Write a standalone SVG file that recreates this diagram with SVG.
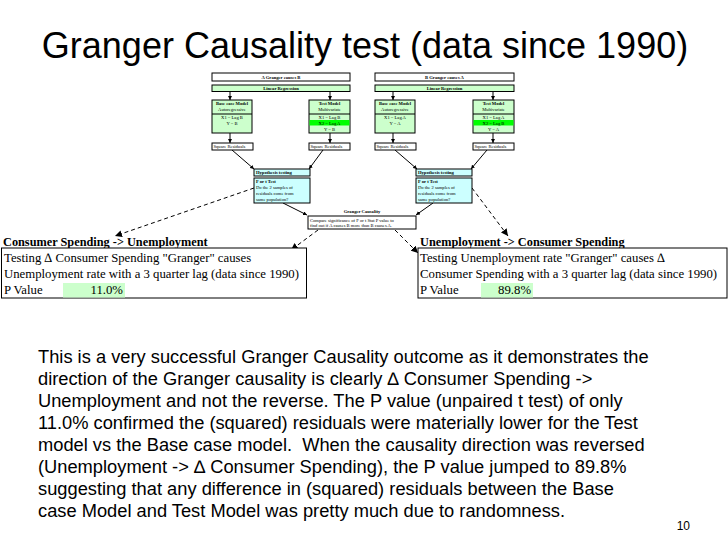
<svg xmlns="http://www.w3.org/2000/svg" width="728" height="546" viewBox="0 0 728 546">
<style>
.t{font-family:"Liberation Serif",serif;fill:#000}
.s{font-size:4.6px}
.b{font-weight:bold}
.box{stroke:#000;stroke-width:1}
.g{fill:#ccffcc}
.c{fill:#ccffff}
.w{fill:#fff}
.ln{stroke:#000;stroke-width:1;fill:none}
.dl{stroke:#000;stroke-width:1;fill:none;stroke-dasharray:4,3}
.body{font-family:"Liberation Sans",Arial,sans-serif;font-size:18.3px;fill:#000}
.tb{font-family:"Liberation Serif",serif;font-size:12.75px;fill:#000}
.hd{font-family:"Liberation Serif",serif;font-size:12.3px;font-weight:bold;fill:#000}
</style>
<defs>
<marker id="a" viewBox="0 0 10 10" refX="10" refY="5" markerWidth="4" markerHeight="4" markerUnits="userSpaceOnUse" orient="auto"><path d="M0,0L10,5L0,10z" fill="#000"/></marker>
<marker id="a2" viewBox="0 0 10 10" refX="10" refY="5" markerWidth="7" markerHeight="7" markerUnits="userSpaceOnUse" orient="auto"><path d="M0,0L10,5L0,10z" fill="#000"/></marker>
</defs>
<rect width="728" height="546" fill="#fff"/>
<text x="365" y="58" text-anchor="middle" font-family="Liberation Sans,Arial,sans-serif" font-size="36" fill="#000">Granger Causality test (data since 1990)</text>

<g id="connectors">
<line class="ln" x1="230" y1="91" x2="230" y2="100" marker-end="url(#a)"/>
<line class="ln" x1="330" y1="91" x2="330" y2="100" marker-end="url(#a)"/>
<line class="ln" x1="230" y1="133" x2="230" y2="143" marker-end="url(#a)"/>
<line class="ln" x1="330" y1="133" x2="330" y2="143" marker-end="url(#a)"/>
<line class="ln" x1="393" y1="91" x2="393" y2="100" marker-end="url(#a)"/>
<line class="ln" x1="493" y1="91" x2="493" y2="100" marker-end="url(#a)"/>
<line class="ln" x1="393" y1="133" x2="393" y2="143" marker-end="url(#a)"/>
<line class="ln" x1="493" y1="133" x2="493" y2="143" marker-end="url(#a)"/>
<line class="ln" x1="232" y1="150" x2="254" y2="169" marker-end="url(#a)"/>
<line class="ln" x1="323" y1="150" x2="309" y2="169" marker-end="url(#a)"/>
<line class="ln" x1="395" y1="150" x2="417" y2="169" marker-end="url(#a)"/>
<line class="ln" x1="487" y1="150" x2="471" y2="169" marker-end="url(#a)"/>
<line class="ln" x1="283" y1="203" x2="307" y2="215" marker-end="url(#a)"/>
<line class="ln" x1="433" y1="203" x2="416" y2="215" marker-end="url(#a)"/>
<line class="dl" x1="254" y1="188" x2="115" y2="236" marker-end="url(#a2)"/>
<line class="dl" x1="472" y1="188" x2="508" y2="236" marker-end="url(#a2)"/>
<line class="dl" x1="318" y1="230" x2="291" y2="250" marker-end="url(#a2)"/>
<line class="dl" x1="395" y1="230" x2="418" y2="253" marker-end="url(#a2)"/>
</g>

<g id="a-causes-b">
<rect class="box w" x="212" y="73" width="138" height="8"/>
<text class="t s b" x="281" y="79" text-anchor="middle">A Granger causes B</text>
</g>
<g id="linreg-left">
<rect class="box g" x="212" y="85" width="138" height="6.5"/>
<text class="t s b" x="281" y="90" text-anchor="middle">Linear Regression</text>
</g>
<g id="base-left">
<rect class="box g" x="212" y="100" width="40" height="33"/>
<line class="ln" x1="212" y1="114" x2="252" y2="114"/>
<text class="t s b" x="232" y="105" text-anchor="middle">Base case Model</text>
<text class="t s" x="232" y="111" text-anchor="middle">Autoregressive</text>
<text class="t s" x="232" y="119" text-anchor="middle">X1 = Lag B</text>
<text class="t s" x="232" y="124.5" text-anchor="middle">Y = B</text>
</g>
<g id="test-left">
<rect class="box g" x="309" y="100" width="41" height="33"/>
<line class="ln" x1="309" y1="114" x2="350" y2="114"/>
<rect x="309.5" y="120" width="40" height="5.5" fill="#00ff00"/>
<text class="t s b" x="329.5" y="105" text-anchor="middle">Test Model</text>
<text class="t s" x="329.5" y="111" text-anchor="middle">Multivariate</text>
<text class="t s" x="329.5" y="118.5" text-anchor="middle">X1 = Lag B</text>
<text class="t s" x="329.5" y="124.5" text-anchor="middle">X2 = Lag A</text>
<text class="t s" x="329.5" y="130.5" text-anchor="middle">Y = B</text>
</g>
<g id="sq-left-1">
<rect class="box w" x="212" y="143" width="41" height="7"/>
<text class="t s" x="213.5" y="148.3">Square Residuals</text>
</g>
<g id="sq-left-2">
<rect class="box w" x="309" y="143" width="41" height="7"/>
<text class="t s" x="310.5" y="148.3">Square Residuals</text>
</g>
<g id="hyp-left">
<rect class="box c" x="254" y="169" width="56" height="7"/>
<text class="t s b" x="256" y="174.3">Hypothesis testing</text>
</g>
<g id="ftest-left">
<rect class="box c" x="254" y="178" width="56" height="25"/>
<text class="t s b" x="256" y="183">F or t Test</text>
<text class="t s" x="256" y="189">Do the 2 samples of</text>
<text class="t s" x="256" y="195">residuals come from</text>
<text class="t s" x="256" y="201">same population?</text>
</g>

<g id="b-causes-a">
<rect class="box w" x="375" y="73" width="139" height="8"/>
<text class="t s b" x="444.5" y="79" text-anchor="middle">B Granger causes A</text>
</g>
<g id="linreg-right">
<rect class="box g" x="375" y="85" width="139" height="6.5"/>
<text class="t s b" x="444.5" y="90" text-anchor="middle">Linear Regression</text>
</g>
<g id="base-right">
<rect class="box g" x="375" y="100" width="40" height="33"/>
<line class="ln" x1="375" y1="114" x2="415" y2="114"/>
<text class="t s b" x="395" y="105" text-anchor="middle">Base case Model</text>
<text class="t s" x="395" y="111" text-anchor="middle">Autoregressive</text>
<text class="t s" x="395" y="119" text-anchor="middle">X1 = Lag A</text>
<text class="t s" x="395" y="124.5" text-anchor="middle">Y = A</text>
</g>
<g id="test-right">
<rect class="box g" x="473" y="100" width="41" height="33"/>
<line class="ln" x1="473" y1="114" x2="514" y2="114"/>
<rect x="473.5" y="120" width="40" height="5.5" fill="#00ff00"/>
<text class="t s b" x="493.5" y="105" text-anchor="middle">Test Model</text>
<text class="t s" x="493.5" y="111" text-anchor="middle">Multivariate</text>
<text class="t s" x="493.5" y="118.5" text-anchor="middle">X1 = Lag A</text>
<text class="t s" x="493.5" y="124.5" text-anchor="middle">X2 = Lag B</text>
<text class="t s" x="493.5" y="130.5" text-anchor="middle">Y = A</text>
</g>
<g id="sq-right-1">
<rect class="box w" x="375" y="143" width="41" height="7"/>
<text class="t s" x="376.5" y="148.3">Square Residuals</text>
</g>
<g id="sq-right-2">
<rect class="box w" x="473" y="143" width="41" height="7"/>
<text class="t s" x="474.5" y="148.3">Square Residuals</text>
</g>
<g id="hyp-right">
<rect class="box c" x="416" y="169" width="56" height="7"/>
<text class="t s b" x="418" y="174.3">Hypothesis testing</text>
</g>
<g id="ftest-right">
<rect class="box c" x="416" y="178" width="56" height="25"/>
<text class="t s b" x="418" y="183">F or t Test</text>
<text class="t s" x="418" y="189">Do the 2 samples of</text>
<text class="t s" x="418" y="195">residuals come from</text>
<text class="t s" x="418" y="201">same population?</text>
</g>

<g id="granger">
<text class="t s b" x="362" y="213" text-anchor="middle">Granger Causality</text>
<rect class="box w" x="308" y="216" width="108" height="13"/>
<text class="t s" x="310" y="221.5">Compare significance of F or t Stat P value to</text>
<text class="t s" x="310" y="227.3">find out if A causes B more than B causes A.</text>
</g>

<g id="left-result">
<text class="hd" x="3" y="246">Consumer Spending -&gt; Unemployment</text>
<rect class="box w" x="1.5" y="248" width="305" height="50"/>
<rect x="63" y="283" width="62" height="14.5" fill="#ccffcc"/>
<text class="tb" x="4" y="262">Testing ∆ Consumer Spending "Granger" causes</text>
<text class="tb" x="4" y="278">Unemployment rate with a 3 quarter lag (data since 1990)</text>
<text class="tb" x="4" y="294">P Value</text>
<text class="tb" x="123" y="294" text-anchor="end">11.0%</text>
</g>
<g id="right-result">
<text class="hd" x="420" y="246">Unemployment -&gt; Consumer Spending</text>
<rect class="box w" x="418" y="248" width="309" height="50"/>
<rect x="481" y="283" width="52" height="14.5" fill="#ccffcc"/>
<text class="tb" x="420" y="262">Testing Unemployment rate "Granger" causes ∆</text>
<text class="tb" x="420" y="278">Consumer Spending with a 3 quarter lag (data since 1990)</text>
<text class="tb" x="420" y="294">P Value</text>
<text class="tb" x="531" y="294" text-anchor="end">89.8%</text>
</g>

<g id="paragraph">
<text class="body" x="38" y="363">This is a very successful Granger Causality outcome as it demonstrates the</text>
<text class="body" x="38" y="385">direction of the Granger causality is clearly ∆ Consumer Spending -&gt;</text>
<text class="body" x="38" y="407">Unemployment and not the reverse. The P value (unpaired t test) of only</text>
<text class="body" x="38" y="429">11.0% confirmed the (squared) residuals were materially lower for the Test</text>
<text class="body" x="38" y="451" xml:space="preserve">model vs the Base case model.  When the causality direction was reversed</text>
<text class="body" x="38" y="473">(Unemployment -&gt; ∆ Consumer Spending), the P value jumped to 89.8%</text>
<text class="body" x="38" y="495">suggesting that any difference in (squared) residuals between the Base</text>
<text class="body" x="38" y="517">case Model and Test Model was pretty much due to randomness.</text>
</g>
<text x="690" y="530" text-anchor="end" font-family="Liberation Sans,Arial,sans-serif" font-size="12" fill="#000">10</text>
</svg>
